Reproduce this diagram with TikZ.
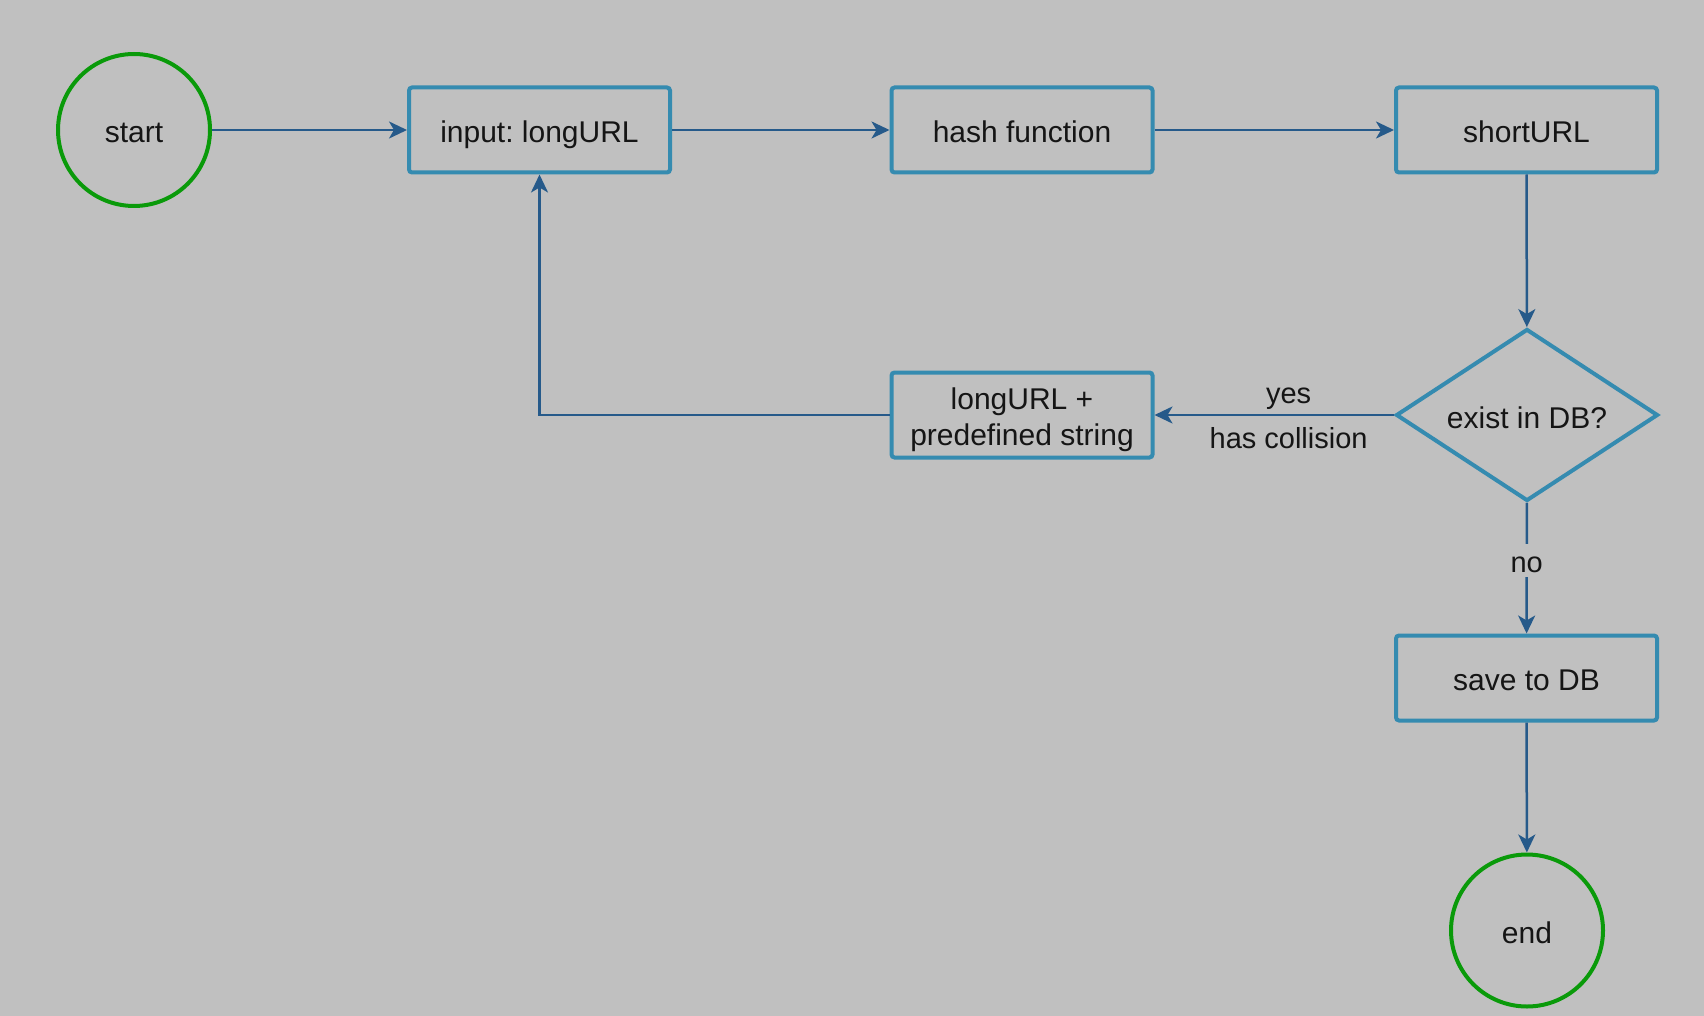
\documentclass[tikz,border=0pt]{standalone}
\usepackage{fontspec}
\setmainfont{Liberation Sans}
\frenchspacing
\usetikzlibrary{shapes.geometric,arrows.meta}
\definecolor{bg}{HTML}{C0C0C0}
\definecolor{boxc}{HTML}{358BB0}
\definecolor{arr}{HTML}{265A8A}
\definecolor{grn}{HTML}{0A9A0A}
\definecolor{txt}{HTML}{151515}
\begin{document}
\begin{tikzpicture}[x=1pt,y=-1pt,
  every node/.style={font=\fontsize{30}{36}\selectfont, text=txt},
  single/.style={text height=25pt, text depth=0pt},
  procbox/.style={draw=boxc, line width=4pt, rounded corners=3pt, minimum width=261pt, minimum height=85pt, inner sep=0pt, align=center},
  term/.style={draw=grn, line width=4pt, circle, minimum size=152pt, inner sep=0pt, single},
  decide/.style={draw=boxc, line width=4pt, diamond, aspect=1.5, minimum width=262pt, minimum height=172pt, inner sep=0pt},
  conn/.style={draw=arr, line width=2.5pt, -{Stealth[length=18pt,width=17pt,inset=5pt]}},
  lab/.style={font=\fontsize{29}{34}\selectfont}
]
\fill[bg] (0,0) rectangle (1704,1016);
\useasboundingbox (0,0) rectangle (1704,1016);
\node[term] (start) at (134,130) {start};
\node[procbox, single] (input) at (539.5,130) {input: longURL};
\node[procbox, single] (hash) at (1022,130) {hash function};
\node[procbox, single] (short) at (1526.5,130) {shortURL};
\node[decide] (exist) at (1527,415) {\raisebox{-3pt}[\height][\depth]{exist in DB?}};
\node[procbox] (pre) at (1022,415) {\raisebox{-5pt}[\height][\depth]{\begin{tabular}{@{}c@{}}longURL +\\predefined string\end{tabular}}};
\node[procbox, single] (save) at (1526.5,678) {save to DB};
\node[term] (end) at (1527,930.5) {end};
\draw[conn] (start) -- (input);
\draw[conn] (input) -- (hash);
\draw[conn] (hash) -- (short);
\draw[conn] (short) -- (exist);
\draw[conn] (exist) -- node[lab, pos=0.44, above=1pt] {yes} node[lab, pos=0.44, below=8pt] {has collision} (pre);
\draw[conn] (pre.west) -- (input.south |- pre.west) -- (input.south);
\draw[conn] (exist) -- node[lab, single, pos=0.44, fill=bg, inner sep=4pt] {no} (save);
\draw[conn] (save) -- (end);
\end{tikzpicture}
\end{document}
